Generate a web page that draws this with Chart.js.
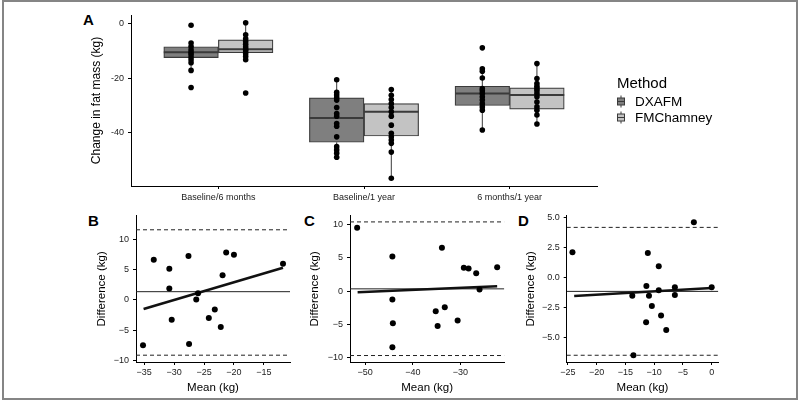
<!DOCTYPE html>
<html lang="en">
<head>
<meta charset="UTF-8">
<title>Change in fat mass: DXA vs Chamney</title>
<script src="https://cdn.jsdelivr.net/npm/chart.js"></script>
<style>
    body { margin: 0; background: #fff; font-family: 'Liberation Sans', Arial, sans-serif; }
    .figure { position: relative; width: 800px; height: 408px; overflow: hidden; background: #fff; }
    .frame { position: absolute; left: 2px; top: 0; width: 796px; height: 400px; border: 2px solid #858585; box-sizing: border-box; }
    .panel { position: absolute; }
    .tag { position: absolute; font-weight: bold; font-size: 15px; line-height: 15px; color: #000; }
</style>
</head>
<body>
<div class="figure">
    <div class="frame"></div>
    <div class="tag" style="left:83px;top:12px">A</div>
    <div class="tag" style="left:88px;top:213px">B</div>
    <div class="tag" style="left:304px;top:213px">C</div>
    <div class="tag" style="left:518px;top:213px">D</div>

    <div class="panel" style="left:80px;top:0;width:720px;height:205px"><canvas id="panelA"></canvas></div>
    <div class="panel" style="left:90px;top:205px;width:205px;height:193px"><canvas id="panelB"></canvas></div>
    <div class="panel" style="left:300px;top:205px;width:209px;height:193px"><canvas id="panelC"></canvas></div>
    <div class="panel" style="left:515px;top:205px;width:208px;height:193px"><canvas id="panelD"></canvas></div>
</div>

<script>
    // ---- Panel A: change in fat mass by period and method ----
    const categories = ['Baseline/6 months', 'Baseline/1 year', '6 months/1 year'];
    const methods = ['DXAFM', 'FMChamney'];

    const dxaLower  = [-17.1, -49.0, -39.0];
    const dxaQ1     = [-12.4, -43.5, -30.0];
    const dxaMedian = [-10.4, -34.6, -25.6];
    const dxaQ3     = [-8.4, -27.2, -22.9];
    const dxaUpper  = [-7.0, -20.5, -16.5];
    const dxaPoints = [
        [-0.5, -7.0, -8.3, -9.5, -10.4, -11.2, -12.2, -13.2, -14.3, -17.1, -23.4],
        [-20.5, -25.1, -26.1, -27.1, -28.0, -30.7, -32.9, -33.9, -36.6, -37.6, -41.5, -45.1, -46.3, -47.5, -49.0],
        [-8.8, -16.5, -17.4, -19.9, -23.8, -24.6, -25.6, -26.8, -28.0, -29.3, -30.5, -31.7, -39.0]
    ];

    const fmcLower  = [-13.2, -56.7, -36.8];
    const fmcQ1     = [-10.6, -41.2, -31.3];
    const fmcMedian = [-9.3, -32.3, -26.1];
    const fmcQ3     = [-5.9, -29.3, -23.5];
    const fmcUpper  = [0.4, -24.1, -14.6];
    const fmcPoints = [
        [0.4, -4.0, -5.5, -6.5, -7.5, -8.5, -9.3, -10.0, -11.0, -12.0, -13.2, -25.4],
        [-24.1, -26.2, -27.8, -29.3, -30.7, -32.3, -33.9, -37.2, -40.2, -41.5, -42.7, -43.9, -47.1, -56.7],
        [-14.6, -20.1, -21.9, -22.9, -23.8, -24.6, -25.6, -26.8, -28.7, -30.5, -31.7, -33.5, -36.8]
    ];

    // ---- Panels B-D: Bland-Altman (mean vs difference) ----
    const bMean = [-35.2, -33.4, -30.8, -30.8, -30.4, -27.6, -27.5, -26.3, -26.0, -24.2, -23.2, -22.2, -21.9, -21.3, -20.0, -11.8];
    const bDiff = [-7.5, 6.7, 5.2, 1.9, -3.3, 7.3, -7.3, 0.1, 1.1, -3.0, -1.6, -4.5, 4.1, 7.9, 7.5, 6.0];
    const bBias = 1.38;
    const bLimits = [-9.17, 11.66];
    const bFitX = [-35.1, -11.8];
    const bFitY = [-1.49, 5.36];

    const cMean = [-51.7, -44.3, -44.3, -44.2, -44.3, -33.9, -29.3, -28.3, -26.7, -22.3, -26.0, -33.3, -35.2, -34.8, -30.6];
    const cDiff = [9.5, 5.2, -1.25, -4.8, -8.4, 6.5, 3.5, 3.4, 2.7, 3.6, 0.25, -2.4, -3.0, -5.2, -4.4];
    const cBias = 0.35;
    const cLimits = [-9.63, 10.37];
    const cFitX = [-51.6, -22.3];
    const cFitY = [-0.15, 0.75];

    const dMean = [-24.2, -13.8, -13.6, -11.4, -11.35, -11.1, -10.9, -10.4, -9.2, -9.2, -8.8, -7.9, -6.4, -6.4, -3.1, 0.0];
    const dDiff = [2.1, -1.5, -6.45, -3.7, -0.7, 2.05, -1.5, -2.35, 0.95, -1.05, -3.15, -4.35, -0.8, -1.45, 4.6, -0.8];
    const dBias = -1.14;
    const dLimits = [-6.44, 4.17];
    const dFitX = [-23.9, 0.0];
    const dFitY = [-1.52, -0.86];

    const FONT = '"Liberation Sans", Arial, sans-serif';
    const INK = '#3a3a3a';
    Chart.defaults.font.family = FONT;

    const fmt = (v, digits) => (v < 0 ? '\u2212' : '') + Math.abs(v).toFixed(digits);

    // boxplot built from floating bars + line segments + dots
    const DODGE = 0.1875;
    const BOX_W = 0.375;
    function boxDatasets(name, fill, offset, lower, q1, med, q3, upper, pts) {
        const xs = categories.map((c, i) => i + 1 + offset);
        const whiskers = [];
        const medians = [];
        const dots = [];
        xs.forEach((x, i) => {
            whiskers.push({x, y: lower[i]}, {x, y: q1[i]}, {x, y: null},
                          {x, y: q3[i]}, {x, y: upper[i]}, {x, y: null});
            medians.push({x: x - BOX_W / 2, y: med[i]}, {x: x + BOX_W / 2, y: med[i]}, {x, y: null});
            pts[i].forEach(v => dots.push({x, y: v}));
        });
        return [
            { type: 'bar', label: name, data: xs.map((x, i) => ({x, y: [q1[i], q3[i]]})),
              backgroundColor: fill, borderColor: INK, borderWidth: 1.2, borderSkipped: false,
              barThickness: 54.6, grouped: false, order: 3 },
            { type: 'line', data: whiskers, borderColor: INK, borderWidth: 1, pointRadius: 0, order: 4 },
            { type: 'line', data: medians, borderColor: INK, borderWidth: 2, pointRadius: 0, order: 2 },
            { type: 'scatter', data: dots, pointRadius: 2.8, backgroundColor: '#000', borderWidth: 0, order: 1 }
        ];
    }

    const fills = ['#7f7f7f', '#c3c3c3'];

    // legend for panel A drawn beside the plot
    const methodLegend = {
        id: 'methodLegend',
        afterDraw(chart) {
            const ctx = chart.ctx;
            const x0 = chart.chartArea.right + 20;
            ctx.save();
            ctx.fillStyle = '#000';
            ctx.font = '15px ' + FONT;
            ctx.textBaseline = 'alphabetic';
            ctx.fillText('Method', x0, 88);
            methods.forEach((name, i) => {
                const cy = 101.5 + i * 16;
                ctx.strokeStyle = INK;
                ctx.lineWidth = 1;
                ctx.beginPath();
                ctx.moveTo(x0 + 4, cy - 6);
                ctx.lineTo(x0 + 4, cy + 6);
                ctx.stroke();
                ctx.fillStyle = fills[i];
                ctx.fillRect(x0 + 0.5, cy - 3.5, 7, 7);
                ctx.strokeRect(x0 + 0.5, cy - 3.5, 7, 7);
                ctx.beginPath();
                ctx.moveTo(x0 + 0.5, cy);
                ctx.lineTo(x0 + 7.5, cy);
                ctx.stroke();
                ctx.fillStyle = '#000';
                ctx.font = '13.5px ' + FONT;
                ctx.textBaseline = 'middle';
                ctx.fillText(name, x0 + 18, cy + 0.5);
            });
            ctx.restore();
        }
    };

    new Chart(document.getElementById('panelA'), {
        type: 'bar',
        data: {
            datasets: [
                ...boxDatasets(methods[0], fills[0], -DODGE, dxaLower, dxaQ1, dxaMedian, dxaQ3, dxaUpper, dxaPoints),
                ...boxDatasets(methods[1], fills[1], DODGE, fmcLower, fmcQ1, fmcMedian, fmcQ3, fmcUpper, fmcPoints)
            ]
        },
        options: {
            responsive: true,
            maintainAspectRatio: false,
            animation: false,
            layout: { padding: { top: 15, right: 203, bottom: 0, left: 0 } },
            plugins: { legend: { display: false }, tooltip: { enabled: false } },
            scales: {
                x: {
                    type: 'linear', min: 0.4, max: 3.6, offset: false,
                    afterFit: s => { s.height = 19; },
                    border: { display: true, color: '#000', width: 1 },
                    grid: { display: true, offset: false, drawOnChartArea: false, drawTicks: true, tickLength: 3, color: '#000' },
                    ticks: { stepSize: 1, includeBounds: false, maxRotation: 0, autoSkip: false, padding: 3,
                             color: '#222', font: { size: 9 }, callback: v => categories[v - 1] }
                },
                y: {
                    min: -59.56, max: 3.26,
                    afterFit: s => { s.width = 51; },
                    border: { display: true, color: '#000', width: 1 },
                    grid: { display: true, drawOnChartArea: false, drawTicks: true, tickLength: 3, color: '#000' },
                    ticks: { stepSize: 20, includeBounds: false, padding: 4, color: '#222', font: { size: 9 } },
                    title: { display: true, text: 'Change in fat mass (kg)', color: '#000',
                             font: { size: 12 }, padding: { top: 9.8, bottom: 0 } }
                }
            }
        },
        plugins: [methodLegend]
    });

    function hline(y, x0, x1, dash, width) {
        return { type: 'line', data: [{x: x0, y}, {x: x1, y}], borderColor: '#222',
                 borderWidth: width, borderDash: dash, pointRadius: 0 };
    }

    function blandAltman(id, p) {
        new Chart(document.getElementById(id), {
            type: 'scatter',
            data: {
                datasets: [
                    { type: 'scatter', data: p.means.map((m, i) => ({x: m, y: p.diffs[i]})),
                      pointRadius: 3, backgroundColor: '#000', borderWidth: 0, order: 0 },
                    { type: 'line', data: [{x: p.fitX[0], y: p.fitY[0]}, {x: p.fitX[1], y: p.fitY[1]}],
                      borderColor: '#111', borderWidth: 2.6, pointRadius: 0, order: 1 },
                    { ...hline(p.bias, p.xMin, p.xMax, [], 1), order: 2 },
                    { ...hline(p.limits[0], p.xMin, p.xMax, [4, 3], 1), order: 3 },
                    { ...hline(p.limits[1], p.xMin, p.xMax, [4, 3], 1), order: 3 }
                ]
            },
            options: {
                responsive: true,
                maintainAspectRatio: false,
                animation: false,
                layout: { padding: { top: 10.7, right: p.padRight, bottom: 0, left: 0 } },
                plugins: { legend: { display: false }, tooltip: { enabled: false } },
                scales: {
                    x: {
                        type: 'linear', min: p.xMin, max: p.xMax,
                        afterFit: s => { s.height = 36; },
                        border: { display: true, color: '#000', width: 1 },
                        grid: { display: true, drawOnChartArea: false, drawTicks: true, tickLength: 3, color: '#000' },
                        ticks: { stepSize: p.xStep, includeBounds: false, maxRotation: 0, padding: 2,
                                 color: '#222', font: { size: 9 }, callback: v => fmt(v, 0) },
                        title: { display: true, text: 'Mean (kg)', color: '#000',
                                 font: { size: 11.5 }, padding: { top: 0, bottom: 3 } }
                    },
                    y: {
                        type: 'linear', min: p.yMin, max: p.yMax,
                        afterFit: s => { s.width = p.yWidth; },
                        border: { display: true, color: '#000', width: 1 },
                        grid: { display: true, drawOnChartArea: false, drawTicks: true, tickLength: 3, color: '#000' },
                        ticks: { stepSize: p.yStep, includeBounds: false, padding: 4,
                                 color: '#222', font: { size: 9 }, callback: v => fmt(v, p.yDigits) },
                        title: { display: true, text: 'Difference (kg)', color: '#000',
                                 font: { size: 11.5 }, padding: { top: p.titlePad, bottom: 0 } }
                    }
                }
            }
        });
    }

    blandAltman('panelB', { means: bMean, diffs: bDiff, bias: bBias, limits: bLimits, fitX: bFitX, fitY: bFitY,
        xMin: -36.37, xMax: -10.63, yMin: -10.3, yMax: 14.0, xStep: 5, yStep: 5, yDigits: 0,
        yWidth: 46, titlePad: 4.8, padRight: 5 });
    blandAltman('panelC', { means: cMean, diffs: cDiff, bias: cBias, limits: cLimits, fitX: cFitX, fitY: cFitY,
        xMin: -53.2, xMax: -20.8, yMin: -10.6, yMax: 11.3, xStep: 10, yStep: 5, yDigits: 0,
        yWidth: 50, titlePad: 8.1, padRight: 4.7 });
    blandAltman('panelD', { means: dMean, diffs: dDiff, bias: dBias, limits: dLimits, fitX: dFitX, fitY: dFitY,
        xMin: -25.2, xMax: 1.15, yMin: -7.0, yMax: 5.14, xStep: 5, yStep: 2.5, yDigits: 1,
        yWidth: 51.7, titlePad: 9.1, padRight: 4.7 });
</script>
</body>
</html>
